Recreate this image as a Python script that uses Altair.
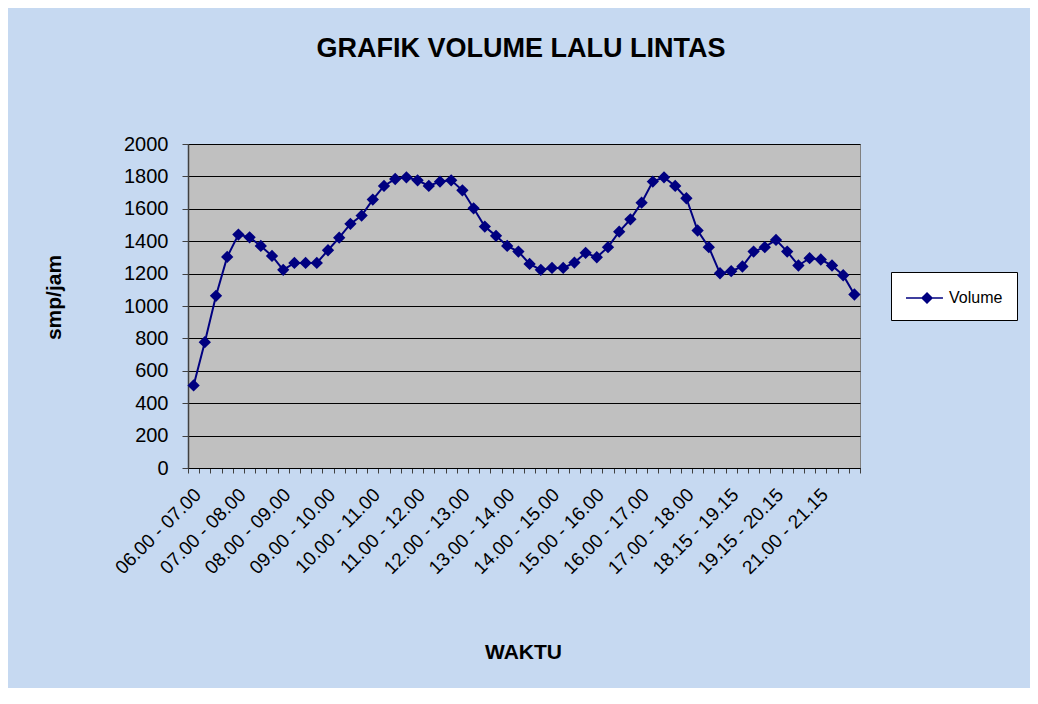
import json
import altair as alt
import pandas as pd

# Hourly volume (smp/jam), 15-minute moving intervals starting at 06.00 - 07.00
volume = [510, 777, 1063, 1303, 1441, 1424, 1371, 1309, 1223, 1266,
          1266, 1266, 1344, 1422, 1507, 1558, 1657, 1741, 1784, 1794,
          1776, 1741, 1768, 1776, 1714, 1603, 1490, 1433, 1371, 1336,
          1260, 1223, 1235, 1235, 1268, 1328, 1301, 1363, 1459, 1535,
          1638, 1768, 1794, 1741, 1665, 1466, 1363, 1202, 1215, 1244,
          1336, 1363, 1408, 1336, 1250, 1295, 1287, 1250, 1190, 1071]

tick_labels = ["06.00 - 07.00", "07.00 - 08.00", "08.00 - 09.00", "09.00 - 10.00",
               "10.00 - 11.00", "11.00 - 12.00", "12.00 - 13.00", "13.00 - 14.00",
               "14.00 - 15.00", "15.00 - 16.00", "16.00 - 17.00", "17.00 - 18.00",
               "18.15 - 19.15", "19.15 - 20.15", "21.00 - 21.15"]

series_name = "Volume"
y_ticks = [0, 200, 400, 600, 800, 1000, 1200, 1400, 1600, 1800, 2000]

df = pd.DataFrame({"idx": list(range(len(volume))), "volume": volume, "series": series_name})

n = len(volume)
boundaries = [k - 0.5 for k in range(n + 1)]
label_expr = ("((datum.value + 0.5) % 4 == 0 && datum.value < " + str(4 * len(tick_labels) - 1) + ") ? "
              + json.dumps(tick_labels) + "[(datum.value + 0.5) / 4] : ''")

FONT = "Liberation Sans, Arial, sans-serif"
NAVY = "#000080"

x_enc = alt.X("idx:Q",
              scale=alt.Scale(domain=[-0.5, n - 0.5], nice=False, zero=False),
              axis=alt.Axis(values=boundaries, labelExpr=label_expr, labelAngle=315,
                            labelAlign="right", labelBaseline="top", labelOffset=3,
                            labelPadding=12, labelFontSize=19, labelFont=FONT, labelColor="black",
                            labelOverlap=False, labelFlush=False, labelBound=False,
                            tickSize=5, tickColor="#404040", domainColor="black", domainWidth=1,
                            grid=False, title="WAKTU", titleFont=FONT, titleFontSize=21,
                            titleFontWeight="bold", titleColor="black", titleX=335, titleY=190,
                            titleAlign="center", titleBaseline="alphabetic"))
y_enc = alt.Y("volume:Q",
              scale=alt.Scale(domain=[0, 2000], nice=False),
              axis=alt.Axis(values=y_ticks, format="d", grid=True, gridColor="black", gridWidth=1,
                            tickSize=6, tickColor="#404040", domainColor="#404040", domainWidth=1.5,
                            labelFontSize=20, labelFont=FONT, labelColor="black", labelPadding=14,
                            title="smp/jam", titleFont=FONT, titleFontSize=21, titleFontWeight="bold",
                            titleColor="black", titleAngle=270, titleX=-128, titleY=153,
                            titleAlign="center", titleBaseline="alphabetic"))

base = alt.Chart(df)

line = base.mark_line(color=NAVY, strokeWidth=2).encode(x=x_enc, y=y_enc)

legend_symbol = "M-1,0H2.36M0.91,-0.45L1.36,0L0.91,0.45L0.46,0Z"

points = base.mark_point(shape="diamond", filled=True, size=90, opacity=1).encode(
    x=x_enc, y=y_enc,
    fill=alt.Fill("series:N", scale=alt.Scale(range=[NAVY]),
                  legend=alt.Legend(title=None, orient="none", legendX=703, legendY=128,
                                    symbolType=legend_symbol, symbolSize=484,
                                    symbolStrokeColor=NAVY, symbolStrokeWidth=1.5,
                                    symbolFillColor=NAVY, labelOffset=20,
                                    labelFont=FONT, labelFontSize=16, labelColor="black",
                                    fillColor="white", strokeColor="black", padding=14)),
    stroke=alt.Stroke("series:N", scale=alt.Scale(range=[NAVY]), legend=None),
)

chart = alt.layer(line, points).properties(
    width=672, height=324,
    autosize=alt.AutoSizeParams(type="none"),
    padding={"left": 180, "top": 136, "right": 170, "bottom": 220},
    background="#C6D9F1",
    title=alt.TitleParams("GRAFIK VOLUME LALU LINTAS", font=FONT, fontSize=27, fontWeight="bold",
                          color="black", anchor="middle", baseline="alphabetic", offset=50, dx=-3),
).configure_view(fill="#C0C0C0", stroke="#808080", strokeWidth=1)

chart.save("out.html", embed_options={"renderer": "svg", "actions": False})
